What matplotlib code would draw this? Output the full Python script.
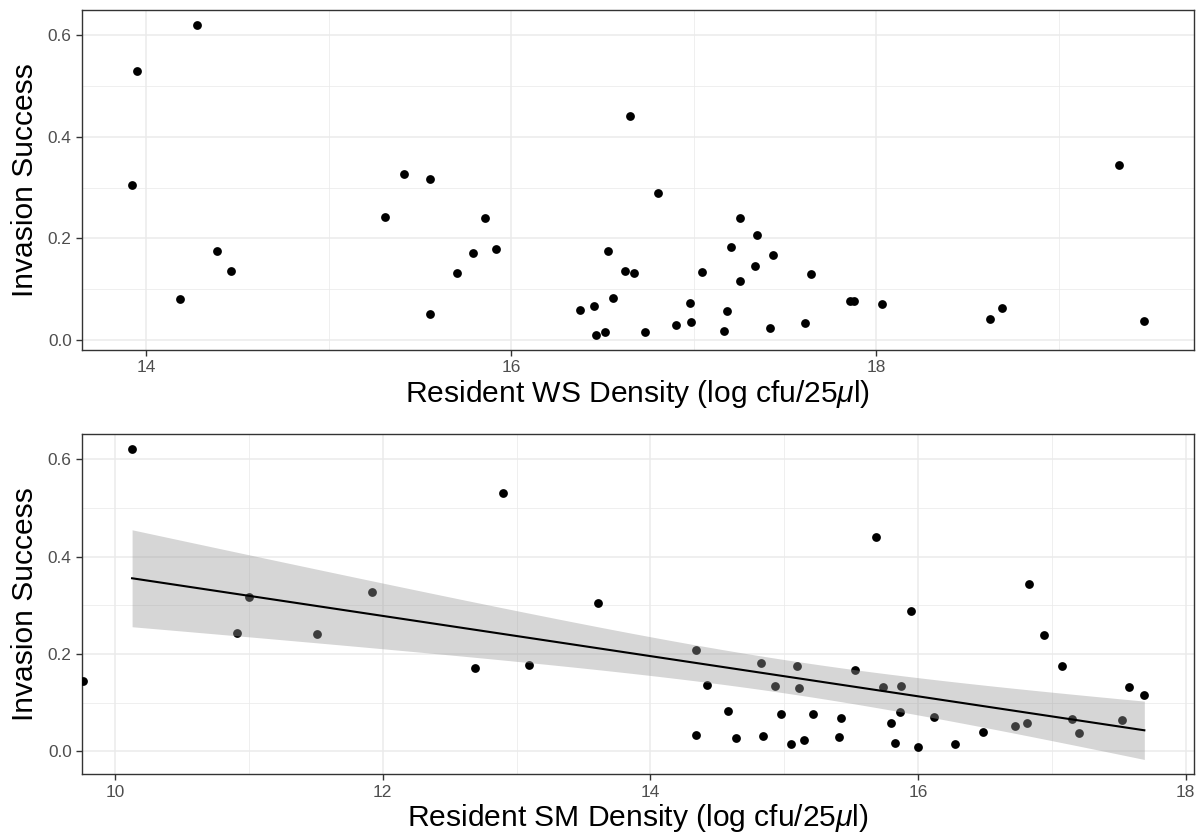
import matplotlib
matplotlib.use("Agg")
import matplotlib.pyplot as plt
from matplotlib.ticker import MultipleLocator
import numpy as np

plt.rcParams['font.family'] = ['Liberation Sans', 'DejaVu Sans']
plt.rcParams['mathtext.fontset'] = 'custom'
plt.rcParams['mathtext.rm'] = 'Liberation Sans'
plt.rcParams['mathtext.it'] = 'Liberation Sans:italic'

# top panel: resident WS density vs invasion success
ws_density = [13.92, 13.95, 14.276, 14.186, 14.386, 14.464, 15.306, 15.412,
              15.555, 15.555, 15.70, 15.79, 15.856, 15.914,
              16.377, 16.453, 16.462, 16.512, 16.532, 16.556, 16.625, 16.672,
              16.649, 16.731, 16.802, 16.90, 16.98, 16.985, 17.047, 17.166,
              17.184, 17.206, 17.251, 17.251, 17.334, 17.348, 17.418, 17.436,
              17.609, 17.642, 17.855, 17.877, 18.033, 18.621, 18.687, 19.33,
              19.469]
ws_success = [0.306, 0.530, 0.621, 0.081, 0.175, 0.136, 0.243, 0.327,
              0.317, 0.052, 0.132, 0.171, 0.240, 0.179,
              0.059, 0.068, 0.010, 0.015, 0.175, 0.083, 0.135, 0.132,
              0.441, 0.015, 0.289, 0.030, 0.072, 0.035, 0.134, 0.017,
              0.058, 0.183, 0.241, 0.117, 0.145, 0.207, 0.024, 0.168,
              0.033, 0.131, 0.077, 0.077, 0.070, 0.041, 0.064, 0.344,
              0.037]

# bottom panel: resident SM density vs invasion success
sm_density = [9.759, 10.127, 10.914, 10.999, 11.512, 11.918,
              12.692, 12.899, 13.091, 13.612, 14.344, 14.421, 14.344, 14.581,
              14.636, 14.828, 14.845, 14.929, 14.979, 15.053, 15.098, 15.108,
              15.148, 15.213, 15.412, 15.425, 15.532, 15.689, 15.736, 15.796,
              15.831, 15.866, 15.871, 15.946, 16.0, 16.117, 16.279, 16.488,
              16.725, 16.812, 16.829, 16.939, 17.078, 17.151, 17.205, 17.527,
              17.579, 17.691]
sm_success = [0.1445, 0.621, 0.243, 0.3166, 0.2405, 0.327,
              0.1706, 0.530, 0.178, 0.3055, 0.2076, 0.1357, 0.034, 0.082,
              0.027, 0.182, 0.0314, 0.135, 0.076, 0.0144, 0.1747, 0.130,
              0.024, 0.0767, 0.0288, 0.0685, 0.168, 0.4405, 0.132, 0.0589,
              0.017, 0.081, 0.134, 0.288, 0.009, 0.0705, 0.015, 0.0403,
              0.0514, 0.058, 0.344, 0.239, 0.1747, 0.0664, 0.037, 0.0637,
              0.132, 0.1164]

t_crit = 2.013  # t(0.975, df=46)

grid_col = '#ebebeb'
tick_col = '#4d4d4d'
ylab = 'Invasion Success'
title_size = 21.6

fig = plt.figure(figsize=(12.03, 8.36), dpi=100)
ax1 = fig.add_axes([0.0682, 0.5813, 0.9243, 0.4067])
ax2 = fig.add_axes([0.0682, 0.0738, 0.9243, 0.4067])


def style(ax):
    ax.set_facecolor('white')
    ax.yaxis.set_major_locator(MultipleLocator(0.2))
    ax.yaxis.set_minor_locator(MultipleLocator(0.1))
    ax.xaxis.set_major_locator(MultipleLocator(2))
    ax.xaxis.set_minor_locator(MultipleLocator(1))
    ax.grid(which='major', color=grid_col, lw=1.1, zorder=0)
    ax.grid(which='minor', color=grid_col, lw=0.55, zorder=0)
    ax.set_axisbelow(True)
    for s in ax.spines.values():
        s.set_color('#333333')
        s.set_linewidth(1.0)
    ax.tick_params(which='major', direction='out', length=4, width=1.0,
                   color='#333333', labelcolor=tick_col, labelsize=12.4, pad=3.5)
    ax.tick_params(which='minor', length=0)
    ax.yaxis.set_major_formatter(matplotlib.ticker.FormatStrFormatter('%.1f'))
    ax.set_ylabel(ylab, fontsize=title_size, labelpad=6)


ax1.scatter(ws_density, ws_success, s=40, color='black', zorder=3, linewidths=0)
style(ax1)
ax1.set_xlim(13.648, 19.741)
ax1.set_ylim(-0.0197, 0.650)
ax1.set_xlabel(r'Resident WS Density (log cfu/25$\mathit{\mu}$l)', fontsize=title_size, labelpad=2)

ax2.scatter(sm_density, sm_success, s=40, color='black', zorder=3, linewidths=0)
# linear fit with 95% CI, fitted on points from x >= 10
x = np.array(sm_density)
y = np.array(sm_success)
keep = x >= 10
xf, yf = x[keep], y[keep]
n = len(xf)
b1, b0 = np.polyfit(xf, yf, 1)
resid = yf - (b0 + b1 * xf)
s_err = np.sqrt(np.sum(resid ** 2) / (n - 2))
xs = np.linspace(xf.min(), xf.max(), 80)
se = s_err * np.sqrt(1.0 / n + (xs - xf.mean()) ** 2 / np.sum((xf - xf.mean()) ** 2))
fit = b0 + b1 * xs
ax2.fill_between(xs, fit - t_crit * se, fit + t_crit * se, color='#999999',
                 alpha=0.4, linewidth=0, zorder=4)
ax2.plot(xs, fit, color='black', lw=1.5, zorder=5)
style(ax2)
ax2.set_xlim(9.753, 18.062)
ax2.set_ylim(-0.0473, 0.6516)
ax2.set_xlabel(r'Resident SM Density (log cfu/25$\mathit{\mu}$l)', fontsize=title_size, labelpad=2)

fig.savefig('out.png', dpi=100)
